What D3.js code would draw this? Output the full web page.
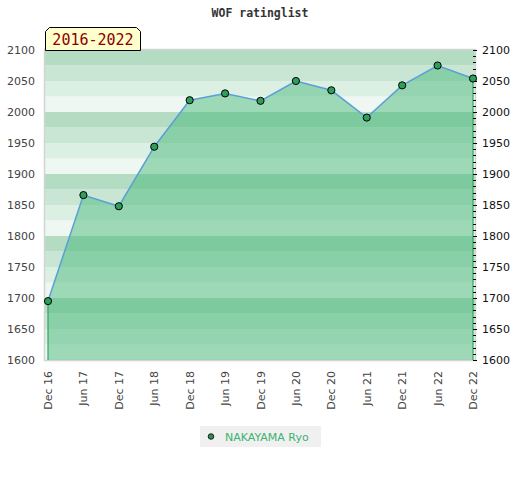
<!DOCTYPE html>
<html>
<head>
<meta charset="utf-8">
<script src="https://cdn.jsdelivr.net/npm/d3@7"></script>
<style>
  body { margin: 0; background: #fff; }
</style>
</head>
<body>
<div id="vis-container"></div>
<script>
// chart data
var months = ["Dec 16", "Jun 17", "Dec 17", "Jun 18", "Dec 18", "Jun 19", "Dec 19",
              "Jun 20", "Dec 20", "Jun 21", "Dec 21", "Jun 22", "Dec 22"];
var ratings = [1695, 1866, 1848, 1944, 2019, 2030, 2018, 2050, 2035, 1991, 2043, 2075, 2054];
var yTicks = [1600, 1650, 1700, 1750, 1800, 1850, 1900, 1950, 2000, 2050, 2100];
var playerName = "NAKAYAMA Ryo";
var periodLabel = "2016-2022";
var chartTitle = "WOF ratinglist";

var width = 520, height = 480;
var plot = { left: 45, right: 475, top: 50, bottom: 360 };

var svg = d3.select("#vis-container")
	.append("svg")
	.attr("width", width)
	.attr("height", height)
	.style("background", "#fff");

var xScale = d3.scalePoint().domain(months).range([48, 473]);
var yScale = d3.scaleLinear().domain([1600, 2100]).range([plot.bottom, plot.top]);

// striped background, 25 points per stripe
var bandColors = ["#b3dcc3", "#c8e6d3", "#dcefe3", "#eef7f1"];
var bands = d3.range(1600, 2100, 25);
svg.append("g")
	.selectAll("rect")
	.data(bands)
	.enter().append("rect")
	.attr("x", plot.left)
	.attr("width", plot.right - plot.left)
	.attr("y", function (d) { return yScale(d + 25); })
	.attr("height", function (d) { return yScale(d) - yScale(d + 25); })
	.attr("fill", function (d) { return bandColors[((2075 - d) / 25) % 4]; });

// plot border
svg.append("rect")
	.attr("x", plot.left - 0.5)
	.attr("y", plot.top - 0.5)
	.attr("width", plot.right - plot.left + 1)
	.attr("height", plot.bottom - plot.top + 1)
	.attr("fill", "none")
	.attr("stroke", "#d4d4d4")
	.attr("stroke-width", 1.5);

var pts = months.map(function (m, i) { return { month: m, value: ratings[i] }; });

// area
var area = d3.area()
	.x(function (d) { return xScale(d.month); })
	.y0(plot.bottom)
	.y1(function (d) { return yScale(d.value); });
svg.append("path")
	.datum(pts)
	.attr("d", area)
	.attr("fill", "#3cb371")
	.attr("fill-opacity", 0.45);

// green vertical edges of the area
[pts[0], pts[pts.length - 1]].forEach(function (d) {
	svg.append("line")
		.attr("x1", xScale(d.month)).attr("x2", xScale(d.month))
		.attr("y1", yScale(d.value)).attr("y2", plot.bottom)
		.attr("stroke", "#2ea85a")
		.attr("stroke-width", 1.2);
});

// right axis minor/major ticks
var rightX = xScale(months[months.length - 1]);
svg.append("g")
	.selectAll("line")
	.data(d3.range(1600, 2101, 10))
	.enter().append("line")
	.attr("x1", rightX)
	.attr("x2", function (d) { return rightX + (d % 50 === 0 ? 4 : 3); })
	.attr("y1", function (d) { return Math.round(yScale(d)) + 0.5; })
	.attr("y2", function (d) { return Math.round(yScale(d)) + 0.5; })
	.attr("stroke", "#000")
	.attr("stroke-width", 1);

// line
var line = d3.line()
	.x(function (d) { return xScale(d.month); })
	.y(function (d) { return yScale(d.value); });
svg.append("path")
	.datum(pts)
	.attr("d", line)
	.attr("fill", "none")
	.attr("stroke", "#5a9fd8")
	.attr("stroke-width", 1.5);

// markers
svg.append("g")
	.selectAll("circle")
	.data(pts)
	.enter().append("circle")
	.attr("cx", function (d) { return xScale(d.month); })
	.attr("cy", function (d) { return yScale(d.value); })
	.attr("r", 3.6)
	.attr("fill", "#2e9e5b")
	.attr("stroke", "#000")
	.attr("stroke-width", 1);

// left y labels
svg.append("g")
	.selectAll("text")
	.data(yTicks)
	.enter().append("text")
	.attr("x", 35)
	.attr("y", function (d) { return yScale(d) + 4; })
	.attr("text-anchor", "end")
	.style("font-family", "DejaVu Sans")
	.style("font-size", "11px")
	.attr("fill", "#444")
	.text(function (d) { return d; });

// right y labels
svg.append("g")
	.selectAll("text")
	.data(yTicks)
	.enter().append("text")
	.attr("x", 482)
	.attr("y", function (d) { return yScale(d) + 4; })
	.attr("text-anchor", "start")
	.style("font-family", "DejaVu Sans")
	.style("font-size", "11px")
	.attr("fill", "#111")
	.text(function (d) { return d; });

// x labels, rotated
svg.append("g")
	.selectAll("text")
	.data(months)
	.enter().append("text")
	.attr("transform", function (d) {
		return "translate(" + (xScale(d) + 4) + ",371) rotate(-90)";
	})
	.attr("text-anchor", "end")
	.style("font-family", "DejaVu Sans")
	.style("font-size", "11px")
	.attr("fill", "#444")
	.text(function (d) { return d; });

// title
svg.append("text")
	.attr("x", 260)
	.attr("y", 17)
	.attr("text-anchor", "middle")
	.style("font-family", "DejaVu Sans Mono")
	.style("font-size", "11.5px")
	.style("font-weight", "bold")
	.attr("fill", "#333")
	.text(chartTitle);

// period label box with clipped top corners
var bx0 = 45.5, bx1 = 140.5, by0 = 27.5, by1 = 50.5, c = 4;
svg.append("path")
	.attr("d", "M" + bx0 + "," + by1 + "L" + bx0 + "," + (by0 + c) + "L" + (bx0 + c) + "," + by0 +
		"L" + (bx1 - c) + "," + by0 + "L" + bx1 + "," + (by0 + c) + "L" + bx1 + "," + by1 + "Z")
	.attr("fill", "#ffffcc")
	.attr("stroke", "#000")
	.attr("stroke-width", 1);
svg.append("text")
	.attr("x", (bx0 + bx1) / 2)
	.attr("y", 45)
	.attr("text-anchor", "middle")
	.style("font-family", "DejaVu Sans Mono")
	.style("font-size", "15px")
	.attr("fill", "#8b0000")
	.text(periodLabel);

// legend
var legend = svg.append("g").attr("transform", "translate(200,426)");
legend.append("rect")
	.attr("width", 121)
	.attr("height", 21)
	.attr("fill", "#f0f0f0");
legend.append("circle")
	.attr("cx", 11)
	.attr("cy", 10.5)
	.attr("r", 2.8)
	.attr("fill", "#2e8b57")
	.attr("stroke", "#000")
	.attr("stroke-width", 0.8);
legend.append("text")
	.attr("x", 25)
	.attr("y", 14.5)
	.style("font-family", "DejaVu Sans")
	.style("font-size", "11px")
	.attr("fill", "#3cb371")
	.text(playerName);
</script>
</body>
</html>
